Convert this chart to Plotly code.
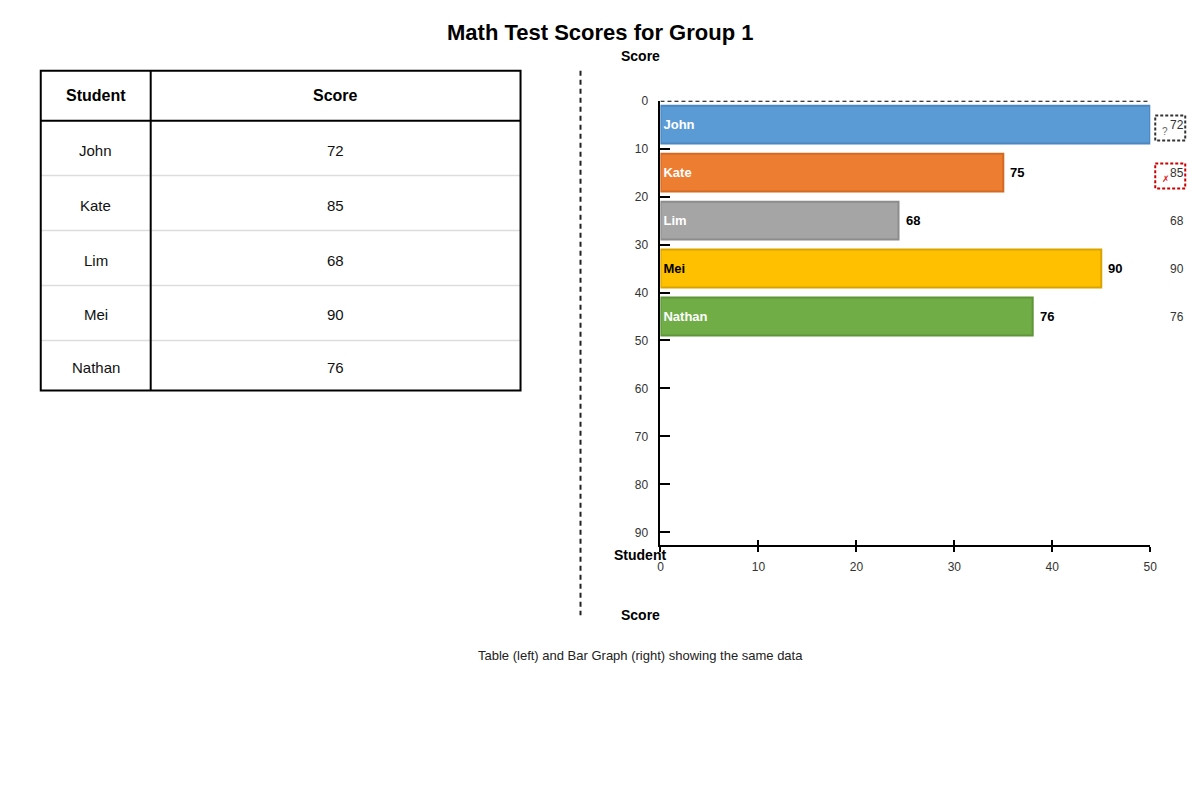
import plotly.graph_objects as go

# ---------------- data ----------------
students = ["John", "Kate", "Lim", "Mei", "Nathan"]
scores = [72, 85, 68, 90, 76]                 # table / right-hand column values
bar_lengths = [50, 35, 24.3, 45, 38]          # bar lengths as drawn on the graph axis
bar_positions = [5, 15, 25, 35, 45]           # bar centres on the vertical axis
outside_labels = ["", "75", "68", "90", "76"]  # bold labels after bar ends
x_ticks = [0, 10, 20, 30, 40, 50]
y_ticks = [0, 10, 20, 30, 40, 50, 60, 70, 80, 90]
bar_fill = ["#5B9BD5", "#ED7D31", "#A5A5A5", "#FFC000", "#70AD47"]
bar_edge = ["#4A86C0", "#D26A24", "#8C8C8C", "#D9A300", "#5E9539"]
name_font_colors = ["white", "white", "white", "black", "white"]

# page body has an 8px margin; size the figure so the page is exactly 1200x800
OX, OY = 8, 8
W, H = 1200 - 2 * OX, 800 - 2 * OY
# small empirical correction between page pixels and the photographed picture
SC, DX, DY = 0.992, 2.3, 6.3
FONT = "Liberation Sans, Arial, sans-serif"


def px(x):
    return ((x - DX) / SC - OX) / W


def py(y):
    return 1 - ((y - DY) / SC - OY) / H


def ann(x, y, text, size, color="#222", bold=False, xref="paper", yref="paper",
        family=FONT, xanchor="center", xshift=0):
    return dict(xref=xref, yref=yref, x=x, y=y, text=text, showarrow=False,
                xanchor=xanchor, yanchor="middle", xshift=xshift,
                font=dict(family=family, size=size, color=color,
                          weight="bold" if bold else "normal"))


fig = go.Figure()

# ---------------- bar chart ----------------
fig.add_trace(go.Bar(
    orientation="h",
    x=bar_lengths,
    y=bar_positions,
    width=7.9,
    marker=dict(color=bar_fill, line=dict(color=bar_edge, width=2)),
    text=students,
    textposition="inside",
    insidetextanchor="start",
    textfont=dict(family=FONT, size=13, color=name_font_colors, weight="bold"),
    hoverinfo="skip",
    xaxis="x", yaxis="y",
))

# invisible trace for the overlay axis (inside tick marks)
fig.add_trace(go.Scatter(x=[0, 50], y=[0, 0], mode="markers",
                         marker=dict(opacity=0), hoverinfo="skip",
                         xaxis="x2", yaxis="y"))

y_range = [92.7, 0]
x_dom = [px(660), px(1150)]
y_dom = [py(545), py(100)]

fig.update_layout(
    width=W, height=H,
    margin=dict(l=0, r=0, t=0, b=0),
    paper_bgcolor="white", plot_bgcolor="white",
    showlegend=False,
    font=dict(family=FONT, color="#222"),
    xaxis=dict(domain=x_dom, range=[0, 50], tickvals=x_ticks,
               showline=True, linecolor="black", linewidth=2,
               ticks="outside", ticklen=5, tickwidth=1.5, tickcolor="black",
               showgrid=False, zeroline=False,
               tickfont=dict(family=FONT, size=12, color="#333"),
               ticklabelstandoff=4, anchor="y", fixedrange=True),
    xaxis2=dict(domain=x_dom, range=[0, 50], tickvals=x_ticks, overlaying="x",
                anchor="y", side="bottom", showline=False,
                ticks="inside", ticklen=5, tickwidth=1.5, tickcolor="black",
                showticklabels=False, showgrid=False, zeroline=False),
    yaxis=dict(domain=y_dom, range=y_range, tickvals=y_ticks,
               showline=True, linecolor="black", linewidth=2,
               ticks="inside", ticklen=10, tickwidth=2, tickcolor="black",
               showgrid=False, zeroline=False,
               tickfont=dict(family=FONT, size=12, color="#333"),
               ticklabelstandoff=8, anchor="x", fixedrange=True),
)

shapes = []
annotations = []

# dashed line along top of graph (score 0)
shapes.append(dict(type="line", xref="x", yref="y", x0=0, x1=50, y0=0, y1=0,
                   line=dict(color="black", width=2, dash="4px,3px")))

# bold value labels just past the bar ends
for lab, L, yp in zip(outside_labels, bar_lengths, bar_positions):
    if lab:
        annotations.append(ann(L, yp, lab, 13, color="black", bold=True,
                               xref="x", yref="y", xanchor="left", xshift=5))

# right-hand value column
for s, yp in zip(scores, bar_positions):
    annotations.append(ann(px(1177), yp, str(s), 12, color="#333", yref="y"))

# dashed boxes around first two values
for (y0, y1, col) in [(3.1, 8.3, "#333"), (13.1, 18.3, "#CC0000")]:
    shapes.append(dict(type="rect", xref="paper", yref="y", x0=px(1155), x1=px(1185),
                       y0=y0, y1=y1, line=dict(color=col, width=2, dash="3px,2px")))
annotations.append(ann(px(1165), 6.4, "?", 10, color="#666", yref="y"))
annotations.append(ann(px(1166), 16.4, "✗", 9, color="#DD2222", yref="y",
                       family="DejaVu Sans"))

# axis titles
for txt, yy in [("Score", 55), ("Student", 555), ("Score", 615)]:
    annotations.append(ann(px(640), py(yy), txt, 14, color="black", bold=True))

# vertical dashed separator
shapes.append(dict(type="line", xref="paper", yref="paper", x0=px(580), x1=px(580),
                   y0=py(70), y1=py(615),
                   line=dict(color="#222", width=2, dash="5px,4px")))

# ---------------- table ----------------
col_edges = [40, 150, 520]
row_edges = [70, 120, 175, 230, 285, 340, 390]
headers = ["Student", "Score"]

for r in row_edges[2:-1]:
    shapes.append(dict(type="line", xref="paper", yref="paper", x0=px(col_edges[0]),
                       x1=px(col_edges[-1]), y0=py(r), y1=py(r),
                       line=dict(color="#DDDDDD", width=1.5)))
shapes.append(dict(type="line", xref="paper", yref="paper", x0=px(col_edges[0]),
                   x1=px(col_edges[-1]), y0=py(row_edges[1]), y1=py(row_edges[1]),
                   line=dict(color="black", width=2)))
shapes.append(dict(type="line", xref="paper", yref="paper", x0=px(col_edges[1]),
                   x1=px(col_edges[1]), y0=py(row_edges[0]), y1=py(row_edges[-1]),
                   line=dict(color="black", width=2)))
shapes.append(dict(type="rect", xref="paper", yref="paper", x0=px(col_edges[0]),
                   x1=px(col_edges[-1]), y0=py(row_edges[-1]), y1=py(row_edges[0]),
                   line=dict(color="black", width=2)))

col_centres = [(col_edges[i] + col_edges[i + 1]) / 2 for i in range(2)]
for h, cx in zip(headers, col_centres):
    annotations.append(ann(px(cx), py((row_edges[0] + row_edges[1]) / 2), h, 16,
                           color="black", bold=True))
for i, (name, s) in enumerate(zip(students, scores)):
    cy = (row_edges[i + 1] + row_edges[i + 2]) / 2 + 2
    annotations.append(ann(px(col_centres[0]), py(cy), name, 15, color="#111"))
    annotations.append(ann(px(col_centres[1]), py(cy), str(s), 15, color="#111"))

# title and caption
annotations.append(ann(px(600), py(32), "Math Test Scores for Group 1", 22,
                       color="black", bold=True))
annotations.append(ann(px(640), py(655),
                       "Table (left) and Bar Graph (right) showing the same data",
                       13, color="#222"))

fig.update_layout(shapes=shapes, annotations=annotations)
fig.write_html("out.html")
